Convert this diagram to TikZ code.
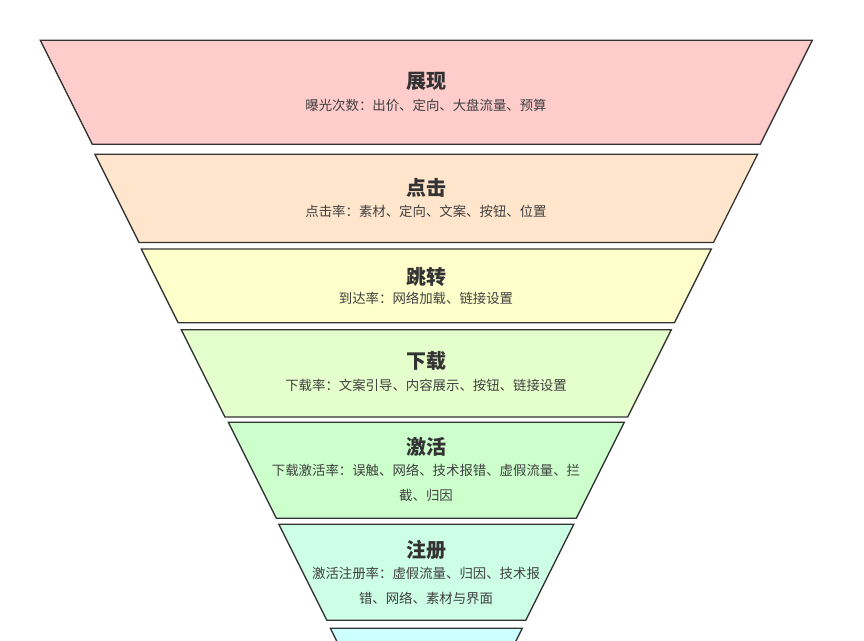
\documentclass[tikz,border=0pt]{standalone}
\usepackage{fontspec}
\setmainfont{Noto Sans CJK SC}
\definecolor{c1}{HTML}{FFCCCC}
\definecolor{c2}{HTML}{FFE5CC}
\definecolor{c3}{HTML}{FFFFCC}
\definecolor{c4}{HTML}{E5FFCC}
\definecolor{c5}{HTML}{CCFFCC}
\definecolor{c6}{HTML}{CCFFE5}
\definecolor{c7}{HTML}{CCFFFF}
\definecolor{edge}{HTML}{333333}
\definecolor{txt}{HTML}{333333}
\definecolor{subtxt}{HTML}{404040}
\tikzset{
  stage/.style={draw=edge, line width=1.3pt, line join=miter},
  ttl/.style={text=txt, font=\fontsize{20}{24}\selectfont\bfseries, inner sep=0pt},
  sub/.style={text=subtxt, font=\fontsize{13.4}{25}\selectfont, inner sep=0pt, align=center},
}
\begin{document}
\begin{tikzpicture}[x=1pt,y=-1pt]
\useasboundingbox (0,0) rectangle (864,640);
\clip (0,0) rectangle (864,640);
\fill[white] (0,0) rectangle (864,640);
% trapezoids: (ytop, ybot, half-width top), slope 0.5, centre 426.3
\def\cx{426.3}
\foreach \yt/\yb/\hw/\col in {40.3/144.3/386/c1, 154.3/242.5/331.3/c2, 249/322.7/285/c3, 329.7/417/245/c4, 422.3/518.3/198/c5, 524.3/620.3/147.5/c6, 628.3/720/96/c7}{
  \pgfmathsetmacro{\hb}{\hw-0.5*(\yb-\yt)}
  \path[stage, fill=\col] (\cx-\hw,\yt) -- (\cx+\hw,\yt) -- (\cx+\hb,\yb) -- (\cx-\hb,\yb) -- cycle;
}
\node[ttl] (t1) at (426,81.5) {展现};
\node[sub] (s1) at (426,105.5) {曝光次数：出价、定向、大盘流量、预算};
\node[ttl] (t2) at (426,187.5) {点击};
\node[sub] (s2) at (426,211.5) {点击率：素材、定向、文案、按钮、位置};
\node[ttl] (t3) at (426,276.5) {跳转};
\node[sub] (s3) at (426,298.5) {到达率：网络加载、链接设置};
\node[ttl] (t4) at (426,361.5) {下载};
\node[sub] (s4) at (426,385.5) {下载率：文案引导、内容展示、按钮、链接设置};
\node[ttl] (t5) at (426,446.5) {激活};
\node[sub, anchor=north] (s5) at (426,464) {下载激活率：误触、网络、技术报错、虚假流量、拦\\截、归因};
\node[ttl] (t6) at (426,549.5) {注册};
\node[sub, anchor=north] (s6) at (426,567) {激活注册率：虚假流量、归因、技术报\\错、网络、素材与界面};
\end{tikzpicture}
\end{document}
